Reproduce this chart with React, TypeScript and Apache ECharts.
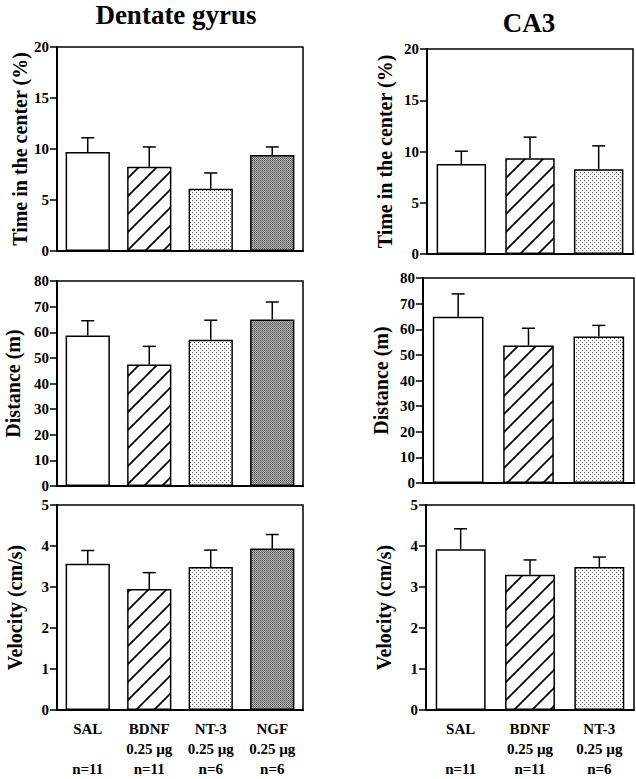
import React, { useEffect, useRef } from 'react';
import * as echarts from 'echarts';

// ---- Data ----
const dgCategories = ['SAL', 'BDNF', 'NT-3', 'NGF'];
const dgDoses = ['', '0.25 µg', '0.25 µg', '0.25 µg'];
const dgN = ['n=11', 'n=11', 'n=6', 'n=6'];
const ca3Categories = ['SAL', 'BDNF', 'NT-3'];
const ca3Doses = ['', '0.25 µg', '0.25 µg'];
const ca3N = ['n=11', 'n=11', 'n=6'];

const dgTime = [9.7, 8.25, 6.1, 9.4];
const dgTimeErr = [11.1, 10.2, 7.65, 10.2];
const dgDistance = [58.7, 47.4, 57.1, 65.0];
const dgDistanceErr = [64.5, 54.5, 64.7, 71.8];
const dgVelocity = [3.57, 2.95, 3.49, 3.94];
const dgVelocityErr = [3.89, 3.35, 3.9, 4.28];

const ca3Time = [8.78, 9.34, 8.26];
const ca3TimeErr = [10.03, 11.4, 10.55];
const ca3Distance = [64.9, 53.7, 57.2];
const ca3DistanceErr = [73.8, 60.4, 61.5];
const ca3Velocity = [3.92, 3.3, 3.49];
const ca3VelocityErr = [4.42, 3.66, 3.73];

const timeScale = { min: 0, max: 20, interval: 5 };
const distanceScale = { min: 0, max: 80, interval: 10 };
const velocityScale = { min: 0, max: 5, interval: 1 };

const titles = ['Dentate gyrus', 'CA3'];
const yNames = ['Time in the center (%)', 'Distance (m)', 'Velocity (cm/s)'];

const FONT = 'Liberation Serif';

function makeCanvas(w: number, h: number, draw: (ctx: CanvasRenderingContext2D) => void) {
  const c = document.createElement('canvas');
  c.width = w;
  c.height = h;
  const ctx = c.getContext('2d')!;
  draw(ctx);
  return { image: c, repeat: 'repeat', imageWidth: w, imageHeight: h } as any;
}

function makePatterns() {
  const white = '#ffffff';
  const hatch = makeCanvas(18, 18, (ctx) => {
    ctx.fillStyle = '#fff';
    ctx.fillRect(0, 0, 18, 18);
    ctx.strokeStyle = '#000';
    ctx.lineWidth = 1.7;
    ctx.beginPath();
    ctx.moveTo(-2, 20);
    ctx.lineTo(20, -2);
    ctx.moveTo(-3, 3);
    ctx.lineTo(3, -3);
    ctx.moveTo(15, 21);
    ctx.lineTo(21, 15);
    ctx.stroke();
  });
  const lightDots = makeCanvas(4, 4, (ctx) => {
    ctx.fillStyle = '#fff';
    ctx.fillRect(0, 0, 4, 4);
    ctx.fillStyle = '#555';
    ctx.fillRect(0, 0, 1, 1);
    ctx.fillRect(2, 2, 1, 1);
  });
  const darkDots = makeCanvas(2, 2, (ctx) => {
    ctx.fillStyle = '#b0b0b0';
    ctx.fillRect(0, 0, 2, 2);
    ctx.fillStyle = '#5a5a5a';
    ctx.fillRect(0, 0, 1, 1);
    ctx.fillStyle = '#767676';
    ctx.fillRect(1, 1, 1, 1);
  });
  return [white, hatch, lightDots, darkDots];
}

export default function App() {
  const ref = useRef<HTMLDivElement>(null);

  useEffect(() => {
    if (!ref.current) return;
    const chart = echarts.init(ref.current, undefined, { renderer: 'svg' });
    const patterns = makePatterns();

    const panels = [
      { cats: dgCategories, doses: dgDoses, ns: dgN, vals: dgTime, errs: dgTimeErr, scale: timeScale, name: yNames[0], grid: { left: 57, top: 47, width: 246, height: 204 }, gap: 27, showX: false },
      { cats: dgCategories, doses: dgDoses, ns: dgN, vals: dgDistance, errs: dgDistanceErr, scale: distanceScale, name: yNames[1], grid: { left: 57, top: 281, width: 246, height: 205 }, gap: 34, showX: false },
      { cats: dgCategories, doses: dgDoses, ns: dgN, vals: dgVelocity, errs: dgVelocityErr, scale: velocityScale, name: yNames[2], grid: { left: 57, top: 505, width: 246, height: 205 }, gap: 32, showX: true },
      { cats: ca3Categories, doses: ca3Doses, ns: ca3N, vals: ca3Time, errs: ca3TimeErr, scale: timeScale, name: yNames[0], grid: { left: 427, top: 49, width: 206, height: 205 }, gap: 32, showX: false },
      { cats: ca3Categories, doses: ca3Doses, ns: ca3N, vals: ca3Distance, errs: ca3DistanceErr, scale: distanceScale, name: yNames[1], grid: { left: 423, top: 278, width: 211, height: 205 }, gap: 32, showX: false },
      { cats: ca3Categories, doses: ca3Doses, ns: ca3N, vals: ca3Velocity, errs: ca3VelocityErr, scale: velocityScale, name: yNames[2], grid: { left: 426, top: 505, width: 208, height: 206 }, gap: 32, showX: true },
    ];

    const grids: any[] = [];
    const xAxes: any[] = [];
    const yAxes: any[] = [];
    const series: any[] = [];

    panels.forEach((p, i) => {
      grids.push({
        ...p.grid,
        show: true,
        borderColor: '#000',
        borderWidth: 1.5,
        backgroundColor: 'transparent',
        containLabel: false,
      });
      xAxes.push({
        type: 'category',
        gridIndex: i,
        data: p.cats,
        axisLine: { show: true, lineStyle: { color: '#000', width: 2 } },
        axisTick: { show: false },
        axisLabel: {
          show: p.showX,
          interval: 0,
          margin: 9,
          color: '#000',
          fontFamily: FONT,
          fontWeight: 'bold',
          fontSize: 15,
          lineHeight: 20,
          formatter: (v: string, idx: number) => `${v}\n${p.doses[idx]}\n${p.ns[idx]}`,
        },
        splitLine: { show: false },
      });
      yAxes.push({
        type: 'value',
        gridIndex: i,
        min: p.scale.min,
        max: p.scale.max,
        interval: p.scale.interval,
        name: p.name,
        nameLocation: 'middle',
        nameGap: p.gap,
        nameTextStyle: { color: '#000', fontFamily: FONT, fontWeight: 'bold', fontSize: 20 },
        axisLine: { show: true, lineStyle: { color: '#000', width: 2 } },
        axisTick: { show: true, length: 7, lineStyle: { color: '#000', width: 1.5 } },
        axisLabel: { show: true, color: '#000', fontFamily: FONT, fontWeight: 'bold', fontSize: 15, margin: 8 },
        splitLine: { show: false },
      });
      series.push({
        type: 'bar',
        xAxisIndex: i,
        yAxisIndex: i,
        barCategoryGap: '28%',
        data: p.vals.map((v, j) => ({
          value: v,
          itemStyle: { color: patterns[j], borderColor: '#000', borderWidth: 1.5 },
        })),
        z: 2,
      });
      series.push({
        type: 'custom',
        xAxisIndex: i,
        yAxisIndex: i,
        data: p.vals.map((v, j) => [j, v, p.errs[j]]),
        z: 3,
        renderItem: (params: any, api: any) => {
          const x = api.value(0);
          const lo = api.coord([x, api.value(1)]);
          const hi = api.coord([x, api.value(2)]);
          const style = { stroke: '#000', lineWidth: 1.5, fill: 'none' };
          return {
            type: 'group',
            children: [
              { type: 'line', shape: { x1: lo[0], y1: lo[1], x2: hi[0], y2: hi[1] }, style },
              { type: 'line', shape: { x1: hi[0] - 6.5, y1: hi[1], x2: hi[0] + 6.5, y2: hi[1] }, style },
            ],
          };
        },
      });
    });

    chart.setOption({
      animation: false,
      backgroundColor: '#fff',
      grid: grids,
      xAxis: xAxes,
      yAxis: yAxes,
      series,
      graphic: [
        {
          type: 'text',
          x: 176,
          y: 15,
          style: { text: titles[0], fill: '#000', font: `bold 27px ${FONT}`, textAlign: 'center', textVerticalAlign: 'middle' },
        },
        {
          type: 'text',
          x: 529,
          y: 23,
          style: { text: titles[1], fill: '#000', font: `bold 27px ${FONT}`, textAlign: 'center', textVerticalAlign: 'middle' },
        },
      ],
    });

    return () => chart.dispose();
  }, []);

  return (
    <div
      ref={ref}
      style={{ position: 'fixed', left: 0, top: 0, width: 636, height: 779, background: '#fff' }}
    />
  );
}
